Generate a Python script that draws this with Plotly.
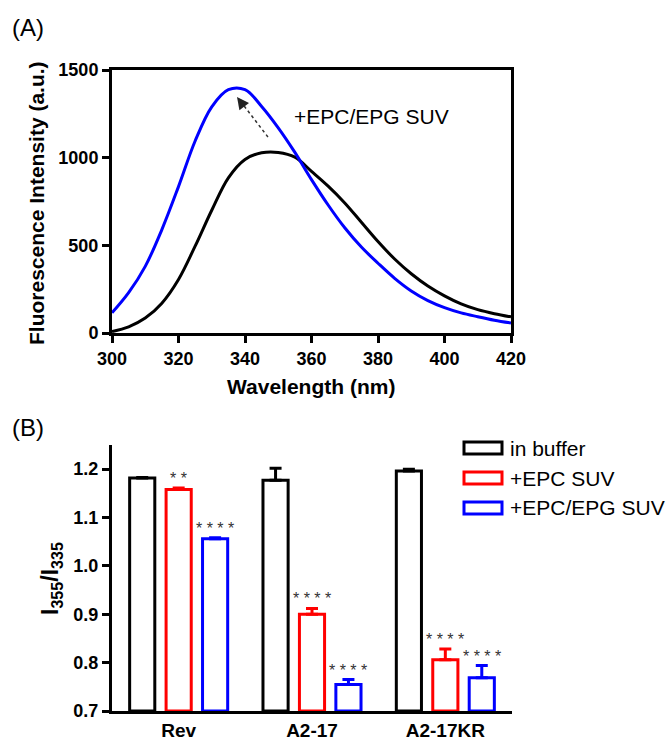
import plotly.graph_objects as go

# ---------------- Data ----------------
wavelength = [300, 305, 310, 315, 320, 325, 330, 335, 340, 345, 350, 355, 360,
              365, 370, 375, 380, 385, 390, 395, 400, 405, 410, 415, 420]
buffer_spec = [8, 35, 85, 170, 305, 495, 700, 885, 990, 1028, 1030, 1003, 922,
               838, 742, 632, 522, 422, 338, 268, 212, 166, 133, 110, 92]
suv_spec = [115, 230, 380, 590, 835, 1095, 1290, 1388, 1388, 1292, 1170, 1030, 875,
            730, 600, 490, 398, 312, 240, 185, 145, 115, 93, 73, 57]

peptides = ["Rev", "A2-17", "A2-17KR"]
series_names = ["in buffer", "+EPC SUV", "+EPC/EPG SUV"]
series_colors = ["#000000", "#FF0000", "#0000FF"]
ratio_buffer = [1.182, 1.177, 1.196]
ratio_epc = [1.158, 0.900, 0.806]
ratio_epg = [1.056, 0.755, 0.769]
err_buffer = [0.001, 0.025, 0.004]
err_epc = [0.003, 0.012, 0.022]
err_epg = [0.002, 0.010, 0.025]
sig_buffer = ["", "", ""]
sig_epc = ["* *", "* * * *", "* * * *"]
sig_epg = ["* * * *", "* * * *", "* * * *"]

FONT = "Arial, Liberation Sans, sans-serif"

# ---------------- Layout geometry ----------------
W, H = 670, 740
ML, MR, MT, MB = 112, 158, 70, 29
PW, PH = W - ML - MR, H - MT - MB


def px_to_paper(px, py):
    return (px - ML) / PW, (H - MB - py) / PH


fig = go.Figure()

# Top panel spectra
fig.add_trace(go.Scatter(x=wavelength, y=buffer_spec, mode="lines",
                         line=dict(color="#000000", width=3, shape="spline", smoothing=1.0),
                         xaxis="x", yaxis="y", showlegend=False))
fig.add_trace(go.Scatter(x=wavelength, y=suv_spec, mode="lines",
                         line=dict(color="#0000FF", width=3, shape="spline", smoothing=1.0),
                         xaxis="x", yaxis="y", showlegend=False))

# Bottom panel bars
ratios = [ratio_buffer, ratio_epc, ratio_epg]
errs = [err_buffer, err_epc, err_epg]
sigs = [sig_buffer, sig_epc, sig_epg]
for name, col, vals, err in zip(series_names, series_colors, ratios, errs):
    fig.add_trace(go.Bar(
        x=peptides, y=[v - 0.7 for v in vals], base=0.7, name=name,
        marker=dict(color="white", line=dict(color=col, width=3)),
        error_y=dict(type="data", array=err, arrayminus=[0] * len(err), symmetric=False,
                     color=col, thickness=3, width=6),
        xaxis="x2", yaxis="y2", showlegend=False))

annotations = []
shapes = []
slot_px = 36.4
for si, (vals, err, sg) in enumerate(zip(ratios, errs, sigs)):
    for ci, pep in enumerate(peptides):
        if sg[ci]:
            annotations.append(dict(
                x=ci, y=vals[ci] + err[ci], xref="x2", yref="y2",
                text=sg[ci], showarrow=False, xanchor="center", yanchor="bottom",
                xshift=(si - 1) * slot_px, yshift=-1,
                font=dict(family=FONT, size=16, color="#333333")))

# dotted arrow in top panel
shapes.append(dict(type="line", xref="x", yref="y", x0=346.9, y0=1118, x1=338.8, y1=1318,
                   line=dict(color="#333333", width=1.5, dash="dot")))
annotations.append(dict(x=337.6, y=1346, xref="x", yref="y", ax=6, ay=8,
                        text="", showarrow=True, arrowhead=2, arrowsize=1.6,
                        arrowwidth=1.5, arrowcolor="#222222"))
annotations.append(dict(x=354.1, y=1232, xref="x", yref="y", text="+EPC/EPG SUV",
                        showarrow=False, xanchor="left", yanchor="middle",
                        font=dict(family=FONT, size=21, color="#000000")))

# panel labels
for lab, py in [("(A)", 28), ("(B)", 427)]:
    xp, yp = px_to_paper(10, py)
    annotations.append(dict(x=xp, y=yp, xref="paper", yref="paper", text=lab,
                            showarrow=False, xanchor="left", yanchor="middle",
                            font=dict(family=FONT, size=24, color="#000000")))

# axis titles
for txt, px, py, ang, size in [
        ("Fluorescence Intensity (a.u.)", 37, 203, -90, 21),
        ("Wavelength (nm)", 311, 386, 0, 21),
        ("I<sub>355</sub>/I<sub>335</sub>", 51, 579, -90, 23)]:
    xp, yp = px_to_paper(px, py)
    annotations.append(dict(x=xp, y=yp, xref="paper", yref="paper", text=txt,
                            textangle=ang, showarrow=False, xanchor="center",
                            yanchor="middle",
                            font=dict(family=FONT, size=size, color="#000000",
                                      weight="bold")))

# manual legend
legend_rows = [448, 478, 508]
for name, col, py in zip(series_names, series_colors, legend_rows):
    x0, y0 = px_to_paper(464, py - 6)
    x1, y1 = px_to_paper(502, py + 6)
    shapes.append(dict(type="rect", xref="paper", yref="paper", x0=x0, x1=x1,
                       y0=y1, y1=y0, line=dict(color=col, width=3),
                       fillcolor="white"))
    tx, ty = px_to_paper(508, py)
    annotations.append(dict(x=tx, y=ty, xref="paper", yref="paper", text=name,
                            showarrow=False, xanchor="left", yanchor="middle",
                            font=dict(family=FONT, size=21, color="#000000")))

top_bottom = (H - MB - 333) / PH
bot_top = (H - MB - 445) / PH

axis_common = dict(showline=True, linecolor="black", linewidth=3, showgrid=False,
                   zeroline=False, ticks="outside", ticklen=7, tickwidth=3,
                   tickcolor="black", automargin=False,
                   tickfont=dict(family=FONT, size=18, color="black", weight="bold"))

fig.update_layout(
    width=W, height=H,
    margin=dict(l=ML, r=MR, t=MT, b=MB, autoexpand=False),
    paper_bgcolor="white", plot_bgcolor="white",
    barmode="group", bargap=0.18, bargroupgap=0.31,
    font=dict(family=FONT, color="black"),
    xaxis=dict(**axis_common, domain=[0, 0.9975], range=[300, 420],
               tickvals=[300, 320, 340, 360, 380, 400, 420], mirror=True,
               anchor="y"),
    yaxis=dict(**axis_common, domain=[top_bottom, 1], range=[0, 1500],
               tickvals=[0, 500, 1000, 1500], mirror=True, anchor="x"),
    xaxis2=dict(showline=True, linecolor="black", linewidth=3, showgrid=False,
                zeroline=False, ticks="", anchor="y2", domain=[0, 1],
                automargin=False,
                tickfont=dict(family=FONT, size=19, color="black", weight="bold")),
    yaxis2=dict(**axis_common, domain=[0, bot_top], range=[0.7, 1.25],
                tickvals=[0.7, 0.8, 0.9, 1.0, 1.1, 1.2], tickformat=".1f",
                anchor="x2"),
    annotations=annotations,
    shapes=shapes,
)

fig.write_html("out.html",
               config={"displayModeBar": False},
               post_script="document.body.style.margin='0';"
                           "document.body.style.overflow='hidden';")
